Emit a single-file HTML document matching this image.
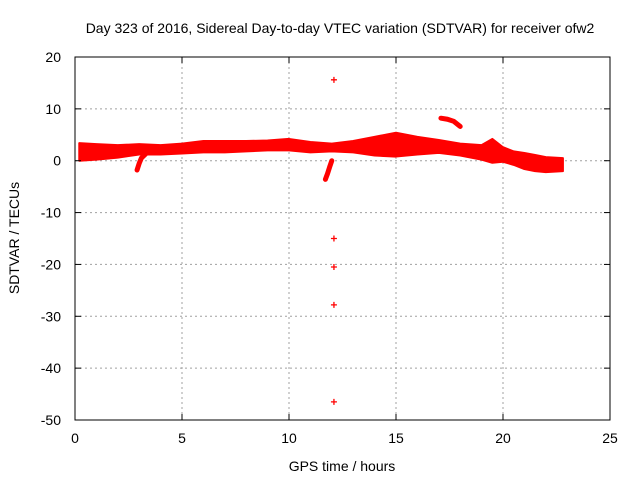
<!DOCTYPE html>
<html><head><meta charset="utf-8"><style>
body{margin:0;background:#fff;}
svg{display:block;font-family:"Liberation Sans",sans-serif;}
</style></head><body>
<svg id="c" width="640" height="480"></svg>
<script>
const xTicks=[0,5,10,15,20,25];
const yTicks=[20,10,0,-10,-20,-30,-40,-50];
const bandHours=[0.2,1,2,3,4,5,6,7,8,9,10,11,12,13,14,15,16,17,18,19,19.5,20,20.5,21,21.5,22,22.8];
const bandUpper=[3.4,3.2,3.0,3.2,3.0,3.3,3.8,3.8,3.8,3.9,4.2,3.6,3.3,3.8,4.6,5.4,4.6,4.0,3.3,3.0,4.2,2.6,1.8,1.5,1.1,0.7,0.5];
const bandLower=[0.0,0.2,0.6,1.2,1.2,1.4,1.6,1.6,1.8,2.0,2.0,1.6,1.8,1.6,1.0,0.8,1.2,1.5,1.0,0.2,-0.4,-0.2,-0.8,-1.6,-2.0,-2.2,-2.0];
const dip1Hours=[2.9,3.0,3.1,3.3];
const dip1Vals=[-1.8,-0.5,0.5,1.3];
const dip2Hours=[11.7,11.8,11.9,12.0];
const dip2Vals=[-3.6,-2.5,-1.2,0.0];
const clusterHours=[17.1,17.4,17.7,18.0];
const clusterVals=[8.2,8.0,7.6,6.6];
const outlierHours=[12.1,12.1,12.1,12.1,12.1];
const outlierVals=[15.6,-15,-20.5,-27.8,-46.5];

const L=75,R=610,T=57,B=420;
const X=h=>L+(h-0)/25*(R-L);
const Y=v=>T+(20-v)/70*(B-T);
const svg=document.getElementById('c');
const NS='http://www.w3.org/2000/svg';
function mk(tag,attrs,parent){const e=document.createElementNS(NS,tag);for(const k in attrs)e.setAttribute(k,attrs[k]);(parent||svg).appendChild(e);return e;}

const grid=mk('g',{});


xTicks.forEach(t=>{if(t>0&&t<25){const l=mk('line',{x1:X(t),x2:X(t),y1:T,y2:B,stroke:'#a0a0a0','stroke-dasharray':'2,3','stroke-width':1},grid);}});
yTicks.forEach(t=>{if(t<20&&t>-50){const l=mk('line',{x1:L,x2:R,y1:Y(t),y2:Y(t),stroke:'#a0a0a0','stroke-dasharray':'2,3','stroke-width':1},grid);}});

const data=mk('g',{fill:'#ff0000',stroke:'#ff0000'});


let pts=bandHours.map((h,i)=>X(h)+','+Y(bandUpper[i]));
for(let i=bandHours.length-1;i>=0;i--)pts.push(X(bandHours[i])+','+Y(bandLower[i]));
const band=mk('polygon',{points:pts.join(' '),'stroke-width':2,'stroke-linejoin':'round'},data);


[[dip1Hours,dip1Vals,'dip-3h'],[dip2Hours,dip2Vals,'dip-12h'],[clusterHours,clusterVals,'cluster-17h']].forEach(([hs,vs,n])=>{
  const p=mk('polyline',{points:hs.map((h,i)=>X(h)+','+Y(vs[i])).join(' '),fill:'none','stroke-width':5,'stroke-linecap':'round'},data);
  
  
});
outlierHours.forEach((h,i)=>{
  const x=X(h),y=Y(outlierVals[i]);
  const p=mk('path',{d:`M${x-3},${y}H${x+3}M${x},${y-3}V${y+3}`,'stroke-width':1.3,fill:'none'},data);
  
  
});

const frame=mk('rect',{x:L,y:T,width:R-L,height:B-T,fill:'none',stroke:'#000','stroke-width':1});


xTicks.forEach(t=>{
  mk('line',{x1:X(t),x2:X(t),y1:B,y2:B-6,stroke:'#000'});mk('line',{x1:X(t),x2:X(t),y1:T,y2:T+6,stroke:'#000'});
  const tx=mk('text',{x:X(t),y:B+23,'text-anchor':'middle','font-size':14,fill:'#000'});tx.textContent=t;
  
});
yTicks.forEach(t=>{
  mk('line',{x1:L,x2:L+6,y1:Y(t),y2:Y(t),stroke:'#000'});mk('line',{x1:R,x2:R-6,y1:Y(t),y2:Y(t),stroke:'#000'});
  const tx=mk('text',{x:L-14,y:Y(t)+5,'text-anchor':'end','font-size':14,fill:'#000'});tx.textContent=t;
  
});
const title=mk('text',{x:340,y:33,'text-anchor':'middle','font-size':14,fill:'#000'});
title.textContent='Day 323 of 2016, Sidereal Day-to-day VTEC variation (SDTVAR) for receiver ofw2';

const xl=mk('text',{x:342,y:471,'text-anchor':'middle','font-size':14,fill:'#000'});
xl.textContent='GPS time / hours';

const yl=mk('text',{x:0,y:0,'text-anchor':'middle','font-size':14,fill:'#000',transform:'translate(19,238) rotate(-90)'});
yl.textContent='SDTVAR / TECUs';

</script>
</body></html>
